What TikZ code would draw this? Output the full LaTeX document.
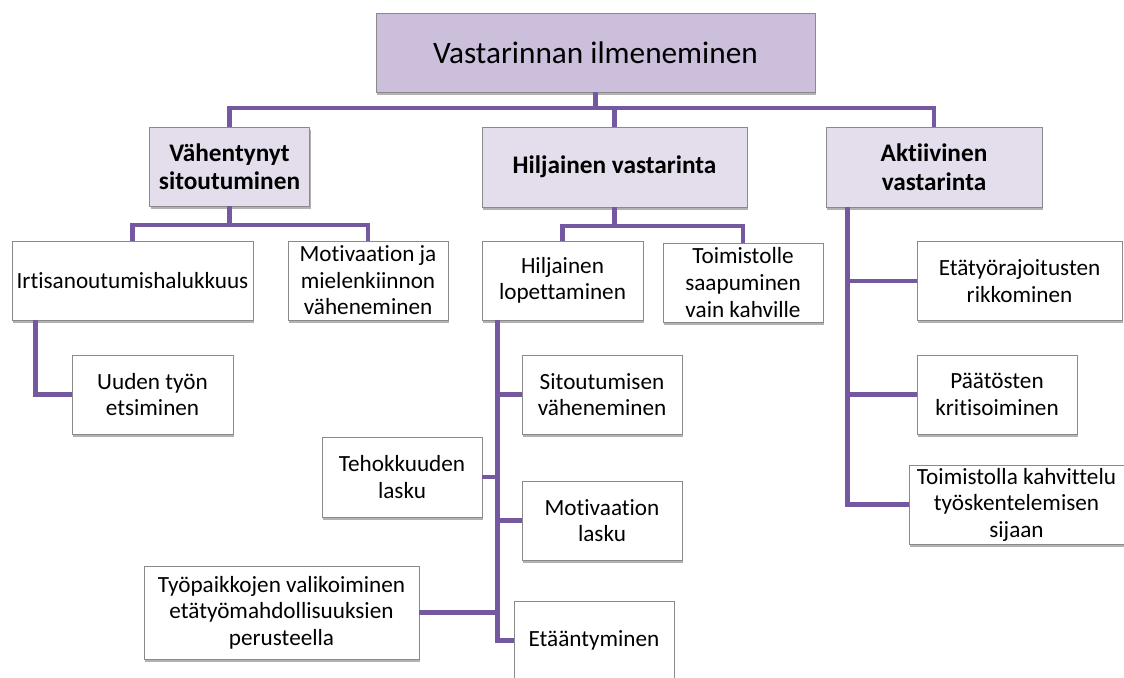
\documentclass[tikz,border=0pt]{standalone}
\usepackage{fontspec}
\setmainfont{Carlito}[Ligatures=NoCommon]
\usepackage{tikz}
\usetikzlibrary{positioning,calc,shadows}
\definecolor{linkpurple}{HTML}{7559A0}
\definecolor{lavender}{HTML}{CBBFDC}
\definecolor{palelav}{HTML}{E4DEEC}
\definecolor{edgegray}{HTML}{8A8A8A}

\begin{document}
\begin{tikzpicture}[
  x=0.02cm, y=-0.02cm,
  every node/.style={font=\fontsize{13.2}{15.1}\selectfont},
  leaf/.style={rectangle,draw=edgegray,line width=0.5pt,fill=white,align=center,
    minimum height=1.58cm,minimum width=3.2cm,inner sep=1pt,
    drop shadow={shadow xshift=0.8pt,shadow yshift=-1.5pt,fill=black,opacity=.3}},
  catbox/.style={leaf,fill=palelav,font=\fontsize{14.4}{16.2}\selectfont\bfseries},
  topbox/.style={leaf,fill=lavender,font=\fontsize{17.8}{20}\selectfont,
    minimum width=8.78cm},
  link/.style={draw=linkpurple,line width=2.7pt}
]
\useasboundingbox (0,0) rectangle (1124,677);

% top level
\node[topbox] (top) at (595.5,52.5) {Vastarinnan ilmeneminen};

% categories
\node[catbox] (vs) at (229.5,166.5) {Vähentynyt\\sitoutuminen};
\node[catbox,minimum width=5.3cm,minimum height=1.6cm] (hv) at (614.5,167) {Hiljainen vastarinta};
\node[catbox,minimum width=4.32cm,minimum height=1.6cm] (ak) at (934,167) {Aktiivinen\\vastarinta};

% under vahentynyt sitoutuminen
\node[leaf,minimum width=4.82cm] (it) at (132.5,280.5) {Irtisanoutumishalukkuus};
\node[leaf] (mj) at (368,280.5) {Motivaation ja\\mielenkiinnon\\väheneminen};
\node[leaf,minimum width=3.22cm] (uu) at (152.5,394.5) {Uuden työn\\etsiminen};

% under hiljainen vastarinta
\node[leaf,minimum width=3.22cm] (hl) at (562.5,280.5) {Hiljainen\\lopettaminen};
\node[leaf] (ts) at (743,282.5) {Toimistolle\\saapuminen\\vain kahville};
\node[leaf] (sv) at (602,394.5) {Sitoutumisen\\väheneminen};
\node[leaf,minimum height=1.6cm] (th) at (402,477) {Tehokkuuden\\lasku};
\node[leaf] (ml) at (602,520.5) {Motivaation\\lasku};
\node[leaf,minimum width=5.5cm,minimum height=1.86cm] (tp) at (281.5,612.5) {Työpaikkojen valikoiminen\\etätyömahdollisuuksien\\perusteella};
\node[leaf] (et) at (594,640.5) {Etääntyminen};

% under aktiivinen vastarinta
\node[leaf,minimum width=4.1cm] (er) at (1019.5,281) {Etätyörajoitusten\\rikkominen};
\node[leaf] (pk) at (997,394.5) {Päätösten\\kritisoiminen};
\node[leaf,minimum width=4.3cm] (tk) at (1016.5,504.5) {Toimistolla kahvittelu\\työskentelemisen\\sijaan};

% connectors
\coordinate (bus) at (595.5,108);
\draw[link] (top.south) -- (bus);
\draw[link] (vs.north) |- (bus) -| (ak.north);
\draw[link] (hv.north) -- (hv.north |- bus);

\coordinate (vsbus) at (229.5,225);
\draw[link] (vs.south) -- (vsbus);
\draw[link] (it.north) |- (vsbus) -| (mj.north);
\coordinate (itt) at ($(it.south west)+(24,0)$);
\draw[link] (itt) |- (uu.west);

\coordinate (hvbus) at (614.5,226);
\draw[link] (hv.south) -- (hvbus);
\draw[link] (hl.north) |- (hvbus) -| (ts.north);
\coordinate (hlt) at ($(hl.south west)+(16,0)$);
\draw[link] (hlt) |- (et.west);
\draw[link] (sv.west) -- (sv.west -| hlt);
\draw[link] (ml.west) -- (ml.west -| hlt);
\draw[link] (th.east) -- (th.east -| hlt);
\draw[link] (tp.east) -- (tp.east -| hlt);

\coordinate (akt) at ($(ak.south west)+(22,0)$);
\draw[link] (akt) |- (tk.west);
\draw[link] (er.west) -- (er.west -| akt);
\draw[link] (pk.west) -- (pk.west -| akt);
\end{tikzpicture}
\end{document}
